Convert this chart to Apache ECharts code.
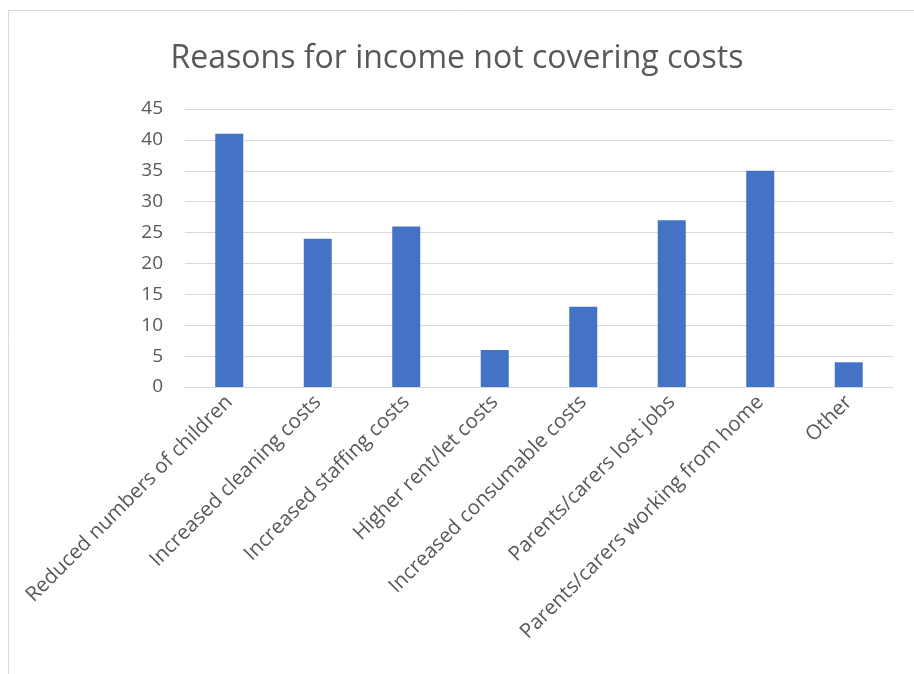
<!DOCTYPE html>
<html>
<head>
<meta charset="utf-8">
<script src="https://cdn.jsdelivr.net/npm/echarts@6/dist/echarts.min.js"></script>
<style>html,body{margin:0;padding:0;background:#fff;}#c{width:914px;height:674px;}</style>
</head>
<body>
<div id="c"></div>
<script>
const titleText = 'Reasons for income not covering costs';
const categories = ['Reduced numbers of children','Increased cleaning costs','Increased staffing costs','Higher rent/let costs','Increased consumable costs','Parents/carers lost jobs','Parents/carers working from home','Other'];
const values = [41, 24, 26, 6, 13, 27, 35, 4];
const yMin = 0, yMax = 45, yStep = 5;

const chart = echarts.init(document.getElementById('c'));
const font = '"Open Sans", "Liberation Sans", sans-serif';
chart.setOption({
  backgroundColor: '#fff',
  animation: false,
  title: {
    text: titleText, left: 'center', top: 38,
    textStyle: { fontFamily: font, fontSize: 32, fontWeight: 'normal', color: '#595959' }
  },
  graphic: [{
    type: 'rect', shape: { x: 8.5, y: 10.5, width: 940, height: 700 },
    style: { fill: 'none', stroke: '#d9d9d9', lineWidth: 1 }, silent: true, z: -1
  }],
  grid: { left: 185, right: 21, top: 109, bottom: 287, containLabel: false },
  xAxis: {
    type: 'category', data: categories,
    axisLine: { lineStyle: { color: '#d9d9d9', width: 1 } },
    axisTick: { show: false },
    axisLabel: { rotate: 45, interval: 0, margin: 12, color: '#595959', fontFamily: font, fontSize: 20.5 }
  },
  yAxis: {
    type: 'value', min: yMin, max: yMax, interval: yStep,
    axisLine: { show: false }, axisTick: { show: false },
    splitLine: { lineStyle: { color: '#d9d9d9', width: 1 } },
    axisLabel: { margin: 22, color: '#595959', fontFamily: font, fontSize: 19 }
  },
  series: [{
    type: 'bar', data: values, barWidth: 28,
    itemStyle: { color: '#4472c4' }
  }]
});
</script>
</body>
</html>
